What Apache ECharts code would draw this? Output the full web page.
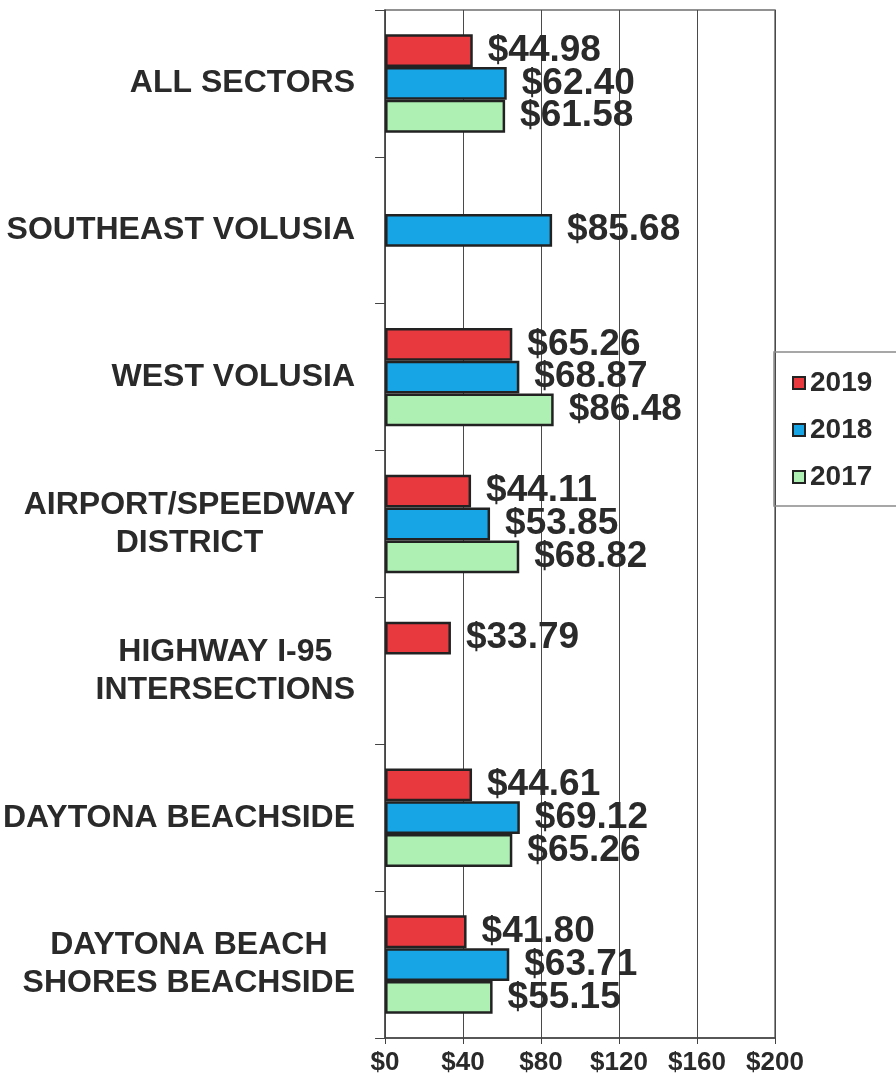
<!DOCTYPE html>
<html>
<head>
<meta charset="utf-8">
<script src="https://cdn.jsdelivr.net/npm/echarts@6/dist/echarts.min.js"></script>
<style>
  html, body { margin: 0; padding: 0; background: #fff; }
  #chart { width: 896px; height: 1084px; }
</style>
</head>
<body>
<div id="chart"></div>
<script>
// categories, top to bottom
const sectors = [
  'ALL SECTORS',
  'SOUTHEAST VOLUSIA',
  'WEST VOLUSIA',
  'AIRPORT/SPEEDWAY\nDISTRICT',
  'HIGHWAY I-95\nINTERSECTIONS',
  'DAYTONA BEACHSIDE',
  'DAYTONA BEACH\nSHORES BEACHSIDE'
]
const years = ['2019', '2018', '2017']
const values2019 = [44.98, null, 65.26, 44.11, 33.79, 44.61, 41.80]
const values2018 = [62.40, 85.68, 68.87, 53.85, null, 69.12, 63.71]
const values2017 = [61.58, null, 86.48, 68.82, null, 65.26, 55.15]
const xTicks = [0, 40, 80, 120, 160, 200]

const font = "'Liberation Sans', Arial, sans-serif"
const colors = ['#e8393f', '#17a5e6', '#aef0b4']

const chart = echarts.init(document.getElementById('chart'))

function makeSeries(name, data, color) {
  return {
    name: name,
    type: 'bar',
    data: data,
    barGap: '0%',
    barCategoryGap: '33%',
    itemStyle: { color: color, borderColor: '#222', borderWidth: 2.5 },
    label: {
      show: true,
      position: 'right',
      distance: 15,
      fontFamily: font,
      fontSize: 37,
      fontWeight: 'bold',
      color: '#2a2a2a',
      formatter: p => '$' + p.value.toFixed(2)
    }
  }
}

const option = {
  animation: false,
  backgroundColor: '#fff',
  grid: {
    left: 385, right: 121, top: 10, bottom: 46,
    show: true, borderColor: '#6e6e6e', borderWidth: 1.5
  },
  legend: {
    data: years,
    orient: 'vertical',
    left: 774, top: 352,
    padding: [16, 40, 14, 18],
    borderColor: '#8a8a8a', borderWidth: 1.5,
    icon: 'rect',
    itemWidth: 12, itemHeight: 12,
    itemGap: 17,
    textStyle: { fontFamily: font, fontSize: 28, fontWeight: 'bold', color: '#2a2a2a', lineHeight: 30 }
  },
  xAxis: {
    type: 'value',
    min: xTicks[0], max: xTicks[xTicks.length - 1], interval: 40,
    axisLine: { show: true, lineStyle: { color: '#444', width: 1.5 } },
    axisTick: { show: true, length: 6, lineStyle: { color: '#444' } },
    splitLine: { show: true, lineStyle: { color: '#4a4a4a', width: 1 } },
    axisLabel: {
      margin: 12,
      fontFamily: font, fontSize: 26, fontWeight: 'bold', color: '#2a2a2a',
      formatter: v => '$' + v
    }
  },
  yAxis: {
    type: 'category',
    data: sectors,
    inverse: true,
    axisLine: { show: true, lineStyle: { color: '#444', width: 1.5 } },
    axisTick: { show: true, length: 10, lineStyle: { color: '#444' } },
    splitLine: { show: false },
    axisLabel: {
      margin: 30,
      align: 'right',
      formatter: v => v.split('\n').map(s => '{a|' + s + '}').join('\n'),
      rich: {
        a: { align: 'center', fontFamily: font, fontSize: 32, fontWeight: 'bold', color: '#2a2a2a', lineHeight: 38 }
      }
    }
  },
  series: [
    makeSeries(years[0], values2019, colors[0]),
    makeSeries(years[1], values2018, colors[1]),
    makeSeries(years[2], values2017, colors[2])
  ]
}

chart.setOption(option)
</script>
</body>
</html>
